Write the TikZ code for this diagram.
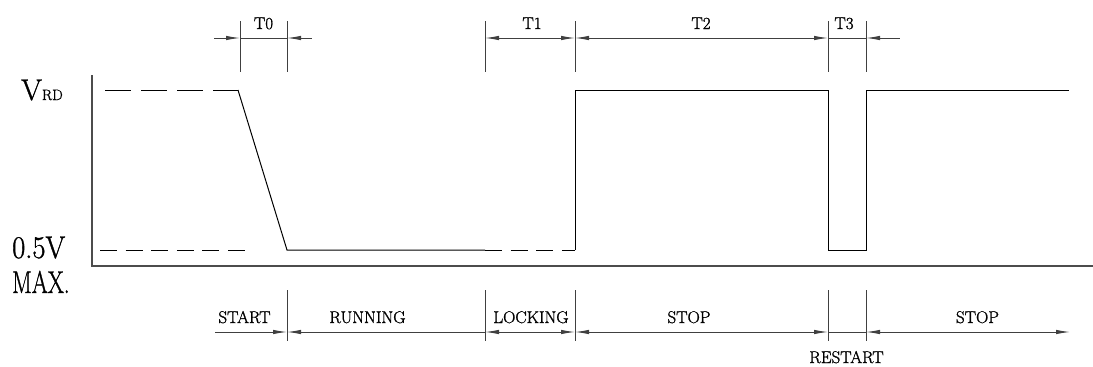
\documentclass[tikz,border=0pt]{standalone}
\usepackage{graphicx}
\usepackage{fontspec}
\newfontfamily\markfont{Latin Modern Roman}[FakeBold=1.2]
\usetikzlibrary{arrows.meta,calc}
\tikzset{
%Define standard arrow tip
>={Latex[length=14pt,width=4.5pt]},
%Define styles for the different line styles
signal/.style={line width=1pt},
axis/.style={line width=1.1pt, black!70},
dim/.style={line width=0.9pt, black!75},
guide/.style={line width=1pt, dash pattern=on 26pt off 10pt},
shortguide/.style={line width=1pt, dash pattern=on 17pt off 8.6pt},
lbl/.style={anchor=base, inner sep=0pt, font=\markfont\fontsize{17}{17}\selectfont},
big/.style={anchor=base west, inner sep=0pt, font=\markfont\fontsize{30}{30}\selectfont},
}

\begin{document}
\begin{tikzpicture}[x=1pt, y=-1pt]
    \useasboundingbox (0,0) rectangle (1093,367);
    % Axis
    \coordinate (o) at (92,266);
    \coordinate (y) at (92,75);
    \coordinate (x) at (1093,266);
    \draw[axis] (y) -- (o) -- (x);
    % Level labels
    \node[big] (vrd) at (21,100) {V\fontsize{15}{15}\selectfont RD};
    \node[big] (low) at (12,258) {\scalebox{0.95}[1.05]{0.5V}};
    \node[big] (max) at (12,293) {\scalebox{0.77}[1.05]{MAX.}};
    % Time marks (top and bottom)
    \foreach \n/\x in {a/240,b/287,c/485,d/575,e/828,f/866} {
      \coordinate (top\n) at (\x,38);
      \coordinate (bot\n) at (\x,332);
      \draw[dim] (\x,21) -- (\x,72);
    }
    \foreach \n in {b,c,d,e,f} \draw[dim] ($(bot\n)+(0,-42)$) -- ($(bot\n)+(0,9)$);
    % Signal
    \draw[guide] (105,90) -- (238,90);
    \draw[shortguide] (100,250) -- (245,250);
    \draw[signal] (238,90) -- (287,250) -- (topc |- 0,250);
    \draw[shortguide] (topc |- 0,250) -- (topd |- 0,250);
    \draw[signal] (topd |- 0,250) -- (topd |- 0,90) -- (tope |- 0,90) -- (tope |- 0,250)
      -- (topf |- 0,250) -- (topf |- 0,90) -- (1069,90);
    % Top dimensions
    \draw[dim,->] ($(topa)+(-26,0)$) -- (topa);
    \draw[dim] (topa) -- (topb);
    \draw[dim,<-] (topb) -- ($(topb)+(25,0)$);
    \draw[dim,<->] (topc) -- (topd);
    \draw[dim,<->] (topd) -- (tope);
    \draw[dim] (tope) -- (topf);
    \draw[dim,<-] (topf) -- ($(topf)+(34,0)$);
    \node[lbl] (T0) at (263.5,29) {T0};
    \node[lbl] (T1) at (532,29) {T1};
    \node[lbl] (T2) at (701,29) {T2};
    \node[lbl] (T3) at (844,29) {T3};
    % Bottom phases
    \draw[dim,->] ($(botb)+(-72,0)$) -- (botb);
    \draw[dim,<-] (botb) -- (botc);
    \draw[dim,<->] (botc) -- (botd);
    \draw[dim,<->] (botd) -- (bote);
    \draw[dim] (bote) -- (botf);
    \draw[dim,<->] (botf) -- ($(botf)+(204,0)$);
    \node[lbl] (start) at (244.5,323) {START};
    \node[lbl] (running) at (367.5,323) {RUNNING};
    \node[lbl] (locking) at (531,323) {LOCKING};
    \node[lbl] (stop) at (689,323) {STOP};
    \node[lbl] (stoptwo) at (977.5,323) {STOP};
    \node[lbl] (restart) at (846.5,363) {RESTART};
  \end{tikzpicture}
\end{document}
